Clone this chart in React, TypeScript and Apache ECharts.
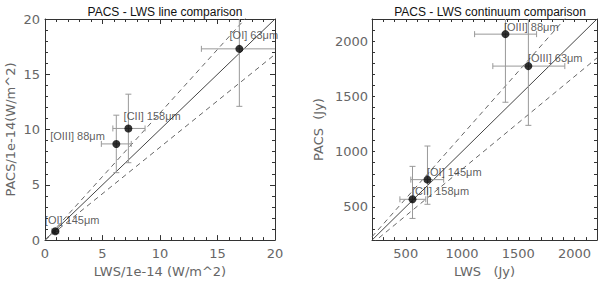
import React, { useEffect, useRef } from "react";
import * as echarts from "echarts";

// ---- Left panel: line fluxes (units of 1e-14 W/m^2)
const leftNames = ["[OI] 145μm", "[OIII] 88μm", "[CII] 158μm", "[OI] 63μm"];
const leftLWS = [0.9, 6.2, 7.25, 16.9];
const leftPACS = [0.8, 8.7, 10.1, 17.3];
const leftLWSLow = [0.6, 4.9, 5.9, 13.6];
const leftLWSHigh = [1.2, 7.5, 8.7, 20.2];
const leftPACSLow = [0.6, 6.1, 7.0, 12.1];
const leftPACSHigh = [1.0, 11.3, 13.2, 22.5];

// ---- Right panel: continuum (Jy)
const rightNames = ["[OIII] 88μm", "[OIII] 63μm", "[OI] 145μm", "[CII] 158μm"];
const rightLWS = [1386, 1590, 693, 560];
const rightPACS = [2063, 1774, 747, 569];
const rightLWSLow = [1112, 1274, 545, 448];
const rightLWSHigh = [1663, 1914, 837, 678];
const rightPACSLow = [1447, 1238, 524, 396];
const rightPACSHigh = [2680, 2310, 1051, 867];

// reference line slopes
const ratios = [1, 1.15, 0.84];

const leftRange = [0, 20];
const rightRange = [200, 2200];

// label placement (pixels relative to symbol box), style only
const leftLabelPos: Array<{ pos: number[]; align: string }> = [
  { pos: [-6.5, -7.5], align: "left" },
  { pos: [-7.5, -3.5], align: "right" },
  { pos: [-0.8, -8.5], align: "left" },
  { pos: [-5.8, -10.2], align: "left" },
];
const rightLabelPos: Array<{ pos: number[]; align: string }> = [
  { pos: [2.5, -3.5], align: "left" },
  { pos: [3.5, -4], align: "left" },
  { pos: [3.5, -4], align: "left" },
  { pos: [3.5, -4], align: "left" },
];

const FONT = "Liberation Sans, Arial, sans-serif";
const TICK_FONT = "DejaVu Sans, sans-serif";
const AXIS_COLOR = "#333";
const LABEL_COLOR = "#666";
const SYM = 8;

function errRender(params: any, api: any) {
  const x = api.value(0);
  const y = api.value(1);
  const xl = api.value(2);
  const xh = api.value(3);
  const yl = api.value(4);
  const yh = api.value(5);
  const pL = api.coord([xl, y]);
  const pR = api.coord([xh, y]);
  const pB = api.coord([x, yl]);
  const pT = api.coord([x, yh]);
  const c = 3;
  const style = { stroke: "#999", lineWidth: 1, fill: "none" };
  const mk = (x1: number, y1: number, x2: number, y2: number) => ({
    type: "line",
    shape: { x1, y1, x2, y2 },
    style,
  });
  return {
    type: "group",
    children: [
      mk(pL[0], pL[1], pR[0], pR[1]),
      mk(pL[0], pL[1] - c, pL[0], pL[1] + c),
      mk(pR[0], pR[1] - c, pR[0], pR[1] + c),
      mk(pB[0], pB[1], pT[0], pT[1]),
      mk(pB[0] - c, pB[1], pB[0] + c, pB[1]),
      mk(pT[0] - c, pT[1], pT[0] + c, pT[1]),
    ],
  };
}

function makeAxis(
  gridIndex: number,
  range: number[],
  position: string,
  opts: any
) {
  return {
    type: "value",
    gridIndex,
    min: range[0],
    max: range[1],
    position,
    axisLine: { show: true, onZero: false, lineStyle: { color: AXIS_COLOR, width: 1 } },
    splitLine: { show: false },
    ...opts,
  };
}

export default function App() {
  const ref = useRef<HTMLDivElement>(null);
  useEffect(() => {
    if (!ref.current) return;
    const chart = echarts.init(ref.current, undefined, { renderer: "svg" });

    const labelStyle = { color: LABEL_COLOR, fontSize: 13, fontFamily: TICK_FONT };
    const nameStyle = { color: LABEL_COLOR, fontSize: 13, fontFamily: TICK_FONT };

    const leftTickOpts = (showLabel: boolean, labelMargin: number) => ({
      interval: 5,
      axisTick: { show: true, inside: true, length: 5, lineStyle: { color: AXIS_COLOR } },
      minorTick: { show: true, splitNumber: 5, length: 3, lineStyle: { color: AXIS_COLOR } },
      axisLabel: { show: showLabel, margin: labelMargin, ...labelStyle },
    });
    const rightTickOpts = (showLabel: boolean, labelMargin: number) => ({
      interval: 100,
      axisTick: { show: true, inside: true, length: 3, lineStyle: { color: AXIS_COLOR } },
      axisLabel: {
        show: showLabel,
        margin: labelMargin,
        showMinLabel: true,
        showMaxLabel: true,
        formatter: (v: number) => (v % 500 === 0 ? String(v) : ""),
        ...labelStyle,
      },
    });

    const xAxis = [
      makeAxis(0, leftRange, "bottom", {
        ...leftTickOpts(true, 7),
        name: "LWS/1e-14 (W/m^2)",
        nameLocation: "middle",
        nameGap: 23,
        nameTextStyle: nameStyle,
      }),
      makeAxis(0, leftRange, "top", leftTickOpts(false, 7)),
      makeAxis(1, rightRange, "bottom", {
        ...rightTickOpts(true, 7),
        name: "LWS   (Jy)",
        nameLocation: "middle",
        nameGap: 23,
        nameTextStyle: nameStyle,
      }),
      makeAxis(1, rightRange, "top", rightTickOpts(false, 7)),
    ];
    const yAxis = [
      makeAxis(0, leftRange, "left", {
        ...leftTickOpts(true, 5),
        name: "PACS/1e-14(W/m^2)",
        nameLocation: "middle",
        nameRotate: 90,
        nameGap: 28,
        nameTextStyle: nameStyle,
      }),
      makeAxis(0, leftRange, "right", leftTickOpts(false, 5)),
      makeAxis(1, rightRange, "left", {
        ...rightTickOpts(true, 4),
        name: "PACS  (Jy)",
        nameLocation: "middle",
        nameRotate: 90,
        nameGap: 47,
        nameTextStyle: nameStyle,
      }),
      makeAxis(1, rightRange, "right", rightTickOpts(false, 4)),
    ];

    const refLines = (range: number[], xIdx: number, yIdx: number) =>
      ratios.map((r, i) => ({
        type: "line",
        xAxisIndex: xIdx,
        yAxisIndex: yIdx,
        data: [
          [range[0], range[0] * r],
          [range[1], range[1] * r],
        ],
        symbol: "none",
        silent: true,
        clip: true,
        lineStyle: {
          color: i === 0 ? "#444" : "#666",
          width: 1,
          type: i === 0 ? "solid" : [5, 4],
        },
        z: 1,
      }));

    const errSeries = (
      xs: number[], ys: number[], xl: number[], xh: number[], yl: number[], yh: number[],
      xIdx: number, yIdx: number
    ) => ({
      type: "custom",
      xAxisIndex: xIdx,
      yAxisIndex: yIdx,
      clip: true,
      silent: true,
      renderItem: errRender,
      encode: { x: 0, y: 1 },
      data: xs.map((x, i) => [x, ys[i], xl[i], xh[i], yl[i], yh[i]]),
      z: 2,
    });

    const pointSeries = (
      xs: number[], ys: number[], names: string[],
      pos: Array<{ pos: number[]; align: string }>,
      xIdx: number, yIdx: number
    ) => ({
      type: "scatter",
      xAxisIndex: xIdx,
      yAxisIndex: yIdx,
      symbol: "circle",
      symbolSize: SYM,
      itemStyle: { color: "#000" },
      z: 3,
      data: xs.map((x, i) => ({
        value: [x, ys[i]],
        label: {
          show: true,
          formatter: names[i],
          position: pos[i].pos,
          align: pos[i].align,
          verticalAlign: "middle",
          color: "#333",
          fontSize: 11,
          fontFamily: FONT,
        },
      })),
    });

    chart.setOption({
      animation: false,
      backgroundColor: "#fff",
      title: [
        {
          text: "PACS - LWS line comparison",
          left: 160,
          top: 1,
          textAlign: "center",
          textStyle: { fontSize: 12, fontWeight: "normal", color: "#111", fontFamily: FONT },
        },
        {
          text: "PACS - LWS continuum comparison",
          left: 485,
          top: 1,
          textAlign: "center",
          textStyle: { fontSize: 12, fontWeight: "normal", color: "#111", fontFamily: FONT },
        },
      ],
      grid: [
        { left: 45, top: 19, width: 230, height: 224, containLabel: false },
        { left: 372, top: 19, width: 226, height: 224, containLabel: false },
      ],
      xAxis,
      yAxis,
      series: [
        ...refLines(leftRange, 0, 0),
        ...refLines(rightRange, 2, 2),
        errSeries(leftLWS, leftPACS, leftLWSLow, leftLWSHigh, leftPACSLow, leftPACSHigh, 0, 0),
        errSeries(rightLWS, rightPACS, rightLWSLow, rightLWSHigh, rightPACSLow, rightPACSHigh, 2, 2),
        pointSeries(leftLWS, leftPACS, leftNames, leftLabelPos, 0, 0),
        pointSeries(rightLWS, rightPACS, rightNames, rightLabelPos, 2, 2),
      ],
    });
    return () => chart.dispose();
  }, []);

  return (
    <div
      ref={ref}
      style={{ position: "fixed", left: 0, top: 0, width: 600, height: 283, background: "#fff" }}
    />
  );
}
